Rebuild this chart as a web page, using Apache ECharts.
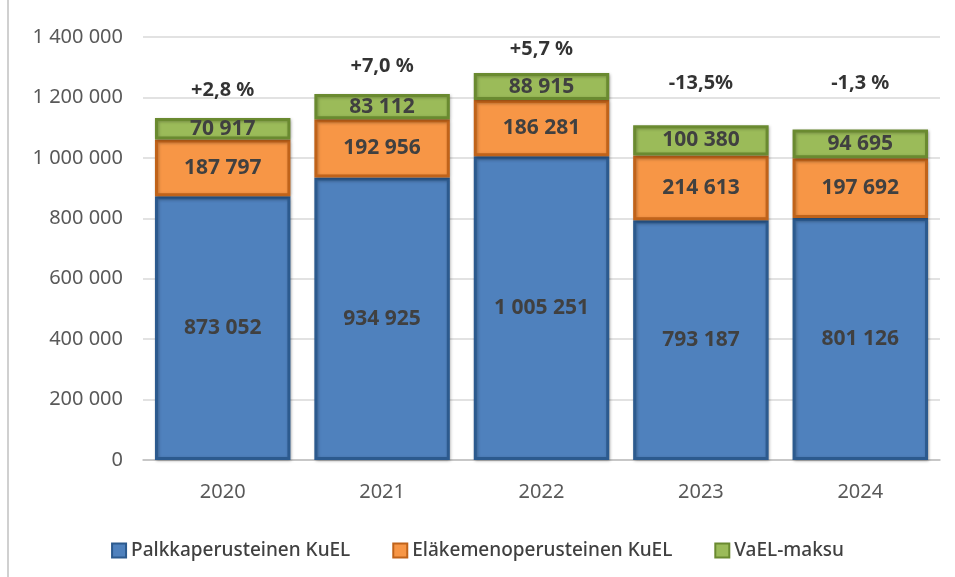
<!DOCTYPE html>
<html style="height: 100%">
<head>
<meta charset="utf-8">
</head>
<body style="height: 100%; margin: 0; background: #fff">
<div id="container" style="width: 955px; height: 577px"></div>
<script type="text/javascript" src="https://cdn.jsdelivr.net/npm/echarts@6/dist/echarts.min.js"></script>
<script type="text/javascript">
var years = ['2020', '2021', '2022', '2023', '2024'];
var palkka = [873052, 934925, 1005251, 793187, 801126];
var elake = [187797, 192956, 186281, 214613, 197692];
var vael = [70917, 83112, 88915, 100380, 94695];
var changes = ['+2,8 %', '+7,0 %', '+5,7 %', '-13,5%', '-1,3 %'];
var changeGap = [18, 18, 14, 32, 36];   // distance of the % label above the bar

var totals = years.map(function (y, i) {
    return palkka[i] + elake[i] + vael[i];
});

function fmt(v) {
    return String(v).replace(/\B(?=(\d{3})+(?!\d))/g, ' ');
}

var font = '"Noto Sans", sans-serif';
var dom = document.getElementById('container');
var myChart = echarts.init(dom);

function barSeries(name, data, color, border) {
    return {
        name: name,
        type: 'bar',
        stack: 'total',
        barWidth: '85%',
        data: data,
        itemStyle: {
            color: color,
            borderColor: border,
            borderWidth: 3,
            shadowColor: 'rgba(0,0,0,0.25)',
            shadowBlur: 3,
            shadowOffsetX: 1,
            shadowOffsetY: 1
        },
        label: {
            show: true,
            position: 'inside',
            color: '#404040',
            fontFamily: font,
            fontWeight: 'bold',
            fontSize: 21,
            formatter: function (p) { return fmt(p.value); }
        }
    };
}

var option = {
    animation: false,
    grid: { left: 143, right: 15, top: 37, bottom: 117 },
    legend: {
        bottom: 12,
        left: 'center',
        itemGap: 42,
        itemWidth: 14,
        itemHeight: 14,
        icon: 'rect',
        data: ['Palkkaperusteinen KuEL', 'Eläkemenoperusteinen KuEL', 'VaEL-maksu'],
        textStyle: { color: '#404040', fontSize: 19, fontWeight: 500, fontFamily: font }
    },
    xAxis: {
        type: 'category',
        data: years,
        axisTick: { show: false },
        axisLine: { lineStyle: { color: '#bfbfbf', width: 1.5 } },
        axisLabel: { color: '#595959', fontSize: 20, fontFamily: font, margin: 22 }
    },
    yAxis: {
        type: 'value',
        min: 0,
        max: 1400000,
        interval: 200000,
        axisLabel: {
            color: '#595959',
            fontSize: 20,
            fontFamily: font,
            margin: 20,
            formatter: function (v) { return fmt(v); }
        },
        splitLine: { lineStyle: { color: '#d9d9d9', width: 1.5 } }
    },
    graphic: [{
        type: 'line',
        shape: { x1: 8, y1: 0, x2: 8, y2: 577 },
        style: { stroke: '#d0d0d0', lineWidth: 2 }
    }],
    series: [
        barSeries('Palkkaperusteinen KuEL', palkka, '#4f81bd', '#2c5a8e'),
        barSeries('Eläkemenoperusteinen KuEL', elake, '#f79646', '#c0631a'),
        barSeries('VaEL-maksu', vael, '#9bbb59', '#6a8a30'),
        {
            name: 'muutos',
            type: 'scatter',
            symbolSize: 0,
            data: totals.map(function (t, i) {
                return {
                    value: t,
                    label: { distance: changeGap[i] }
                };
            }),
            label: {
                show: true,
                position: 'top',
                color: '#000',
                fontFamily: font,
                fontWeight: 'bold',
                fontSize: 20,
                formatter: function (p) { return changes[p.dataIndex]; }
            }
        }
    ]
};

myChart.setOption(option);
</script>
</body>
</html>
